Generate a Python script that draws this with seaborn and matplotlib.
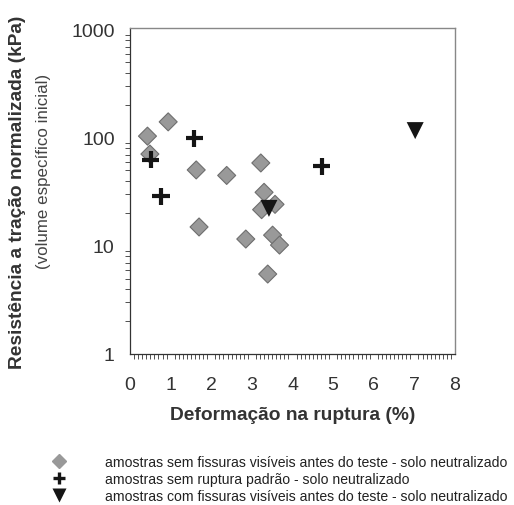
import matplotlib.pyplot as plt
import pandas as pd
import seaborn as sns
from matplotlib.lines import Line2D

# values
diamond_x = [0.43, 0.49, 0.94, 1.63, 1.70, 2.38, 2.85, 3.22, 3.30, 3.24, 3.57, 3.51, 3.68, 3.39]
diamond_y = [104, 71, 141, 50.6, 15, 45, 11.6, 58.7, 31.4, 21.7, 24.3, 12.6, 10.2, 5.5]
plus_x = [0.51, 0.76, 1.58, 4.72]
plus_y = [63, 28.8, 99, 54.7]
tri_x = [3.42, 7.02]
tri_y = [22.3, 117]

labels = [
    "amostras sem fissuras visíveis antes do teste - solo neutralizado",
    "amostras sem ruptura padrão - solo neutralizado",
    "amostras com fissuras visíveis antes do teste - solo neutralizado",
]
x_ticks = [0, 1, 2, 3, 4, 5, 6, 7, 8]
y_ticks = [1, 10, 100, 1000]

df = pd.concat([
    pd.DataFrame({"x": diamond_x, "y": diamond_y, "grupo": labels[0]}),
    pd.DataFrame({"x": plus_x, "y": plus_y, "grupo": labels[1]}),
    pd.DataFrame({"x": tri_x, "y": tri_y, "grupo": labels[2]}),
])

sns.set_style("white")
plt.rcParams["font.family"] = ["Liberation Sans", "DejaVu Sans"]

fig = plt.figure(figsize=(5.14, 5.06), dpi=100)
# axes box: x 130..455 px, y 29..355 px
ax = fig.add_axes([130 / 514, 1 - 355 / 506, 325 / 514, 326 / 506])

palette = {labels[0]: "#999999", labels[1]: "#151515", labels[2]: "#151515"}
markers = {labels[0]: "D", labels[1]: "+", labels[2]: "v"}
sizes = {labels[0]: 84, labels[1]: 155, labels[2]: 150}
widths = {labels[0]: 0.8, labels[1]: 3.0, labels[2]: 0}

for lab in labels:
    sub = df[df["grupo"] == lab]
    kw = {}
    if lab == labels[0]:
        kw["edgecolor"] = "#6e6e6e"
    sns.scatterplot(
        data=sub, x="x", y="y", hue="grupo", palette=palette,
        marker=markers[lab], s=sizes[lab], ax=ax,
        linewidth=widths[lab], legend=False, zorder=3, **kw,
    )

ax.set_yscale("log")
ax.set_xlim(0, 8)
ax.set_ylim(1, 1043)
ax.set_xticks(x_ticks)
ax.set_yticks(y_ticks)
ax.set_xticklabels([str(t) for t in x_ticks])
ax.set_yticklabels([str(t) for t in y_ticks])
ax.xaxis.set_minor_locator(plt.MultipleLocator(0.1))

ax.tick_params(axis="x", which="major", direction="out", length=7, width=0.8,
               color="#333333", labelsize=14, labelcolor="#333333", pad=9)
ax.tick_params(axis="x", which="minor", direction="out", length=3.6, width=0.6,
               color="#333333", bottom=True)
ax.tick_params(axis="y", which="major", direction="out", length=7, width=0.8,
               color="#333333", labelsize=14, labelcolor="#333333", pad=4)
ax.tick_params(axis="y", which="minor", direction="out", length=3.6, width=0.6,
               color="#333333", left=True)

for side in ["left", "bottom"]:
    ax.spines[side].set_color("#333333")
    ax.spines[side].set_linewidth(0.9)
for side in ["top", "right"]:
    ax.spines[side].set_color("#888888")
    ax.spines[side].set_linewidth(1.0)

ax.set_xlabel("Deformação na ruptura (%)", fontsize=13.8, fontweight="bold",
              color="#333333", labelpad=9)
ax.set_ylabel("")
fig.text(18 / 514, 1 - 192 / 506, "Resistência a tração normalizada (kPa)", rotation=90,
         ha="center", va="center", fontsize=13.8, fontweight="bold", color="#333333")
fig.text(44 / 514, 1 - 171 / 506, "(volume específico inicial)", rotation=90,
         ha="center", va="center", fontsize=12.2, color="#444444")

# legend handles, smaller than the plotted marks
handles = [
    Line2D([], [], linestyle="none", marker="D", markersize=7.5,
           markerfacecolor="#999999", markeredgecolor="#999999"),
    Line2D([], [], linestyle="none", marker="+", markersize=9.0,
           markeredgewidth=2.4, color="#151515"),
    Line2D([], [], linestyle="none", marker="v", markersize=9.6,
           markerfacecolor="#151515", markeredgecolor="none"),
]
fig.legend(handles, labels, loc="upper left", bbox_to_anchor=(52 / 514, 1 - 456 / 506),
           frameon=False, fontsize=10.1, handlelength=1.0, handletextpad=2.8,
           labelspacing=0.22, borderpad=0, borderaxespad=0,
           labelcolor="#222222")

fig.savefig("out.png", dpi=100)
